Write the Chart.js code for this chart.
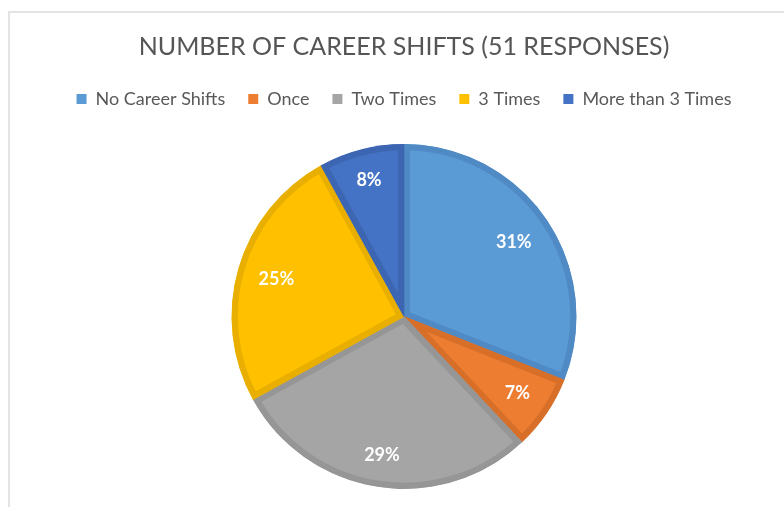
<!DOCTYPE html>
<html>
<head>
<meta charset="utf-8">
<script src="https://cdn.jsdelivr.net/npm/chart.js@4.4.1/dist/chart.umd.min.js"></script>
<style>
  html, body { margin: 0; padding: 0; background: #fff; overflow: hidden; }
  #wrap { position: relative; width: 784px; height: 507px; }
  #frame { position: absolute; left: 8px; top: 11px; right: -4px; bottom: -4px;
           border-left: 2px solid #e3e3e3; border-top: 2px solid #e3e3e3; }
  canvas { position: absolute; left: 0; top: 0; }
</style>
</head>
<body>
<div id="wrap">
  <div id="frame"></div>
  <canvas id="shiftsChart" width="784" height="507"></canvas>
</div>
<script>
const categories = ['No Career Shifts', 'Once', 'Two Times', '3 Times', 'More than 3 Times'];
const shares = [31, 7, 29, 25, 8];
const fills = ['#5b9bd5', '#ed7d31', '#a5a5a5', '#ffc000', '#4472c4'];
const edges = ['#4f8ac4', '#d76f29', '#969696', '#e9af00', '#3d66b2'];

const FONT = 'Lato, "Open Sans", sans-serif';

// push the pie down a bit below the legend
const legendGap = {
    id: 'legendGap',
    beforeInit(chart) {
        const fit = chart.legend.fit;
        chart.legend.fit = function () {
            fit.bind(chart.legend)();
            this.height += 26;
        };
    }
};

// white percentage labels sitting just inside the rim of each slice
const sliceLabels = {
    id: 'sliceLabels',
    afterDatasetsDraw(chart) {
        const ctx = chart.ctx;
        const meta = chart.getDatasetMeta(0);
        ctx.save();
        ctx.font = 'bold 18px ' + FONT;
        ctx.fillStyle = '#ffffff';
        ctx.textAlign = 'center';
        ctx.textBaseline = 'middle';
        meta.data.forEach((arc, i) => {
            const p = arc.getProps(['x', 'y', 'startAngle', 'endAngle', 'outerRadius'], true);
            const mid = (p.startAngle + p.endAngle) / 2;
            const text = shares[i] + '%';
            const hw = ctx.measureText(text).width / 2;
            const hh = 9;
            const c = Math.cos(mid), s = Math.sin(mid);
            const dist = p.outerRadius - 20 - (Math.abs(c) * hw + Math.abs(s) * hh);
            ctx.fillText(text, p.x + c * dist, p.y + s * dist);
        });
        ctx.restore();
    }
};

new Chart(document.getElementById('shiftsChart'), {
    type: 'pie',
    data: {
        labels: categories,
        datasets: [{
            data: shares,
            backgroundColor: fills,
            borderColor: edges,
            borderWidth: 6,
            borderAlign: 'inner'
        }]
    },
    options: {
        responsive: false,
        animation: false,
        layout: { padding: { left: 24, right: 0, top: 0, bottom: 18 } },
        plugins: {
            title: {
                display: true,
                text: 'NUMBER OF CAREER SHIFTS (51 RESPONSES)',
                color: '#555555',
                font: { family: FONT, size: 25, weight: 'normal' },
                padding: { top: 32, bottom: 5 }
            },
            legend: {
                position: 'top',
                labels: {
                    color: '#595959',
                    font: { family: FONT, size: 18 },
                    boxWidth: 10,
                    boxHeight: 10,
                    padding: 23,
                    // plain filled squares, no outline
                    generateLabels(chart) {
                        const items = Chart.overrides.pie.plugins.legend.labels.generateLabels(chart);
                        items.forEach(item => {
                            item.strokeStyle = item.fillStyle;
                            item.lineWidth = 0;
                        });
                        return items;
                    }
                }
            },
            tooltip: { enabled: false }
        }
    },
    plugins: [legendGap, sliceLabels]
});
</script>
</body>
</html>
